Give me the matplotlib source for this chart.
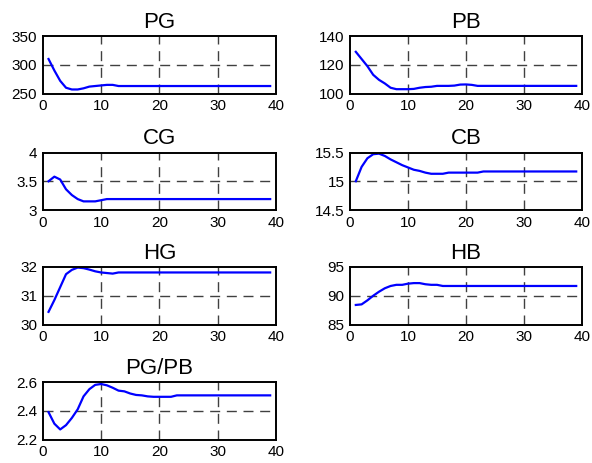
import matplotlib
matplotlib.use("Agg")
import matplotlib.pyplot as plt
import numpy as np

plt.rcParams['font.family'] = ['Liberation Sans', 'DejaVu Sans']

x = np.arange(1, 40)

PG = [310, 290, 272, 260, 257, 257, 259, 262, 263, 264, 265, 265, 263] + [263] * 26
PB = [129, 124, 119, 113, 109.5, 107, 104, 103, 103, 103, 103.2, 104, 104.5, 104.7,
      105.3, 105.3, 105.3, 105.5, 106.2, 106.3, 106] + [105.3] * 18
CG = [3.5, 3.58, 3.53, 3.36, 3.26, 3.19, 3.15, 3.15, 3.15, 3.17, 3.19] + [3.19] * 28
CB = [15.0, 15.25, 15.40, 15.47, 15.48, 15.44, 15.38, 15.33, 15.28, 15.24, 15.20, 15.18,
      15.15, 15.13, 15.13, 15.13, 15.15, 15.15, 15.15, 15.15, 15.15, 15.15] + [15.17] * 17
HG = [30.44, 30.85, 31.3, 31.75, 31.9, 31.98, 31.96, 31.91, 31.85, 31.81, 31.79, 31.77] + [31.81] * 27
HB = [88.4, 88.5, 89.2, 90.0, 90.7, 91.3, 91.7, 91.9, 91.9, 92.1, 92.2, 92.2, 92.0, 91.9,
      91.9] + [91.7] * 24
PGPB = [2.39, 2.31, 2.27, 2.30, 2.35, 2.41, 2.50, 2.55, 2.58, 2.586, 2.577, 2.56, 2.54,
        2.535, 2.52, 2.51, 2.507, 2.50, 2.497, 2.497, 2.497, 2.497] + [2.507] * 17

panels = [
    ("PG", PG, (250, 350), [250, 300, 350], ["250", "300", "350"]),
    ("PB", PB, (100, 140), [100, 120, 140], ["100", "120", "140"]),
    ("CG", CG, (3, 4), [3, 3.5, 4], ["3", "3.5", "4"]),
    ("CB", CB, (14.5, 15.5), [14.5, 15, 15.5], ["14.5", "15", "15.5"]),
    ("HG", HG, (30, 32), [30, 31, 32], ["30", "31", "32"]),
    ("HB", HB, (85, 95), [85, 90, 95], ["85", "90", "95"]),
    ("PG/PB", PGPB, (2.2, 2.6), [2.2, 2.4, 2.6], ["2.2", "2.4", "2.6"]),
]

W, H = 592, 463
fig = plt.figure(figsize=(W / 100, H / 100), dpi=100)

col_left = [42.7, 350]
col_width = [233.3, 232]
row_top = [36, 152.5, 267, 382]
ax_h = 57.5

for i, (title, vals, ylim, yt, ytl) in enumerate(panels):
    r, c = divmod(i, 2)
    l = col_left[c] / W
    b = 1 - (row_top[r] + ax_h) / H
    ax = fig.add_axes([l, b, col_width[c] / W, ax_h / H])
    ax.plot(x, vals, color='#0000ff', lw=1.6, zorder=3)
    ax.set_xlim(0, 40)
    ax.set_ylim(*ylim)
    ax.set_xticks([0, 10, 20, 30, 40])
    ax.set_xticklabels(["0", "10", "20", "30", "40"])
    ax.set_yticks(yt)
    ax.set_yticklabels(ytl)
    ax.tick_params(direction='in', length=0, labelsize=11, pad=4)
    ax.grid(True, color='#404040', linestyle=(0, (7.2, 4.8)), linewidth=1.0)
    xg = ax.xaxis.get_gridlines()
    yg = ax.yaxis.get_gridlines()
    for g in (xg[0], xg[-1], yg[0], yg[-1]):
        g.set_visible(False)
    for s in ax.spines.values():
        s.set_linewidth(1.4)
        s.set_zorder(4)
    ax.set_title(title, fontsize=16, pad=6)

fig.savefig("out.png", dpi=100)
